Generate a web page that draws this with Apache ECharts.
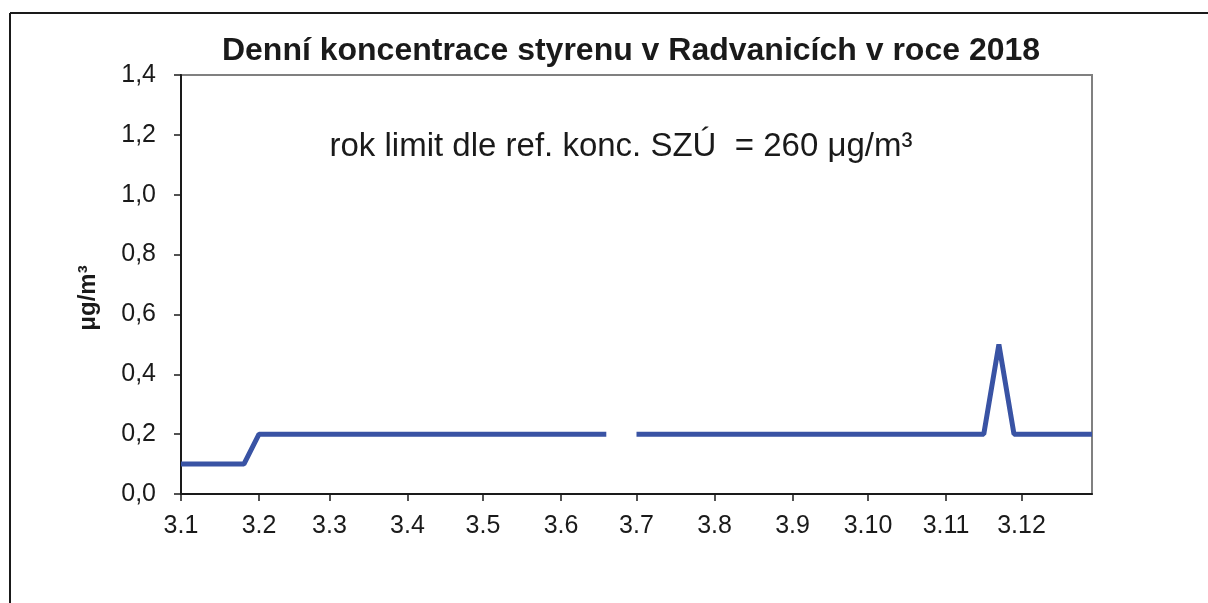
<!DOCTYPE html>
<html>
<head>
<meta charset="utf-8">
<script src="https://cdn.jsdelivr.net/npm/echarts@6/dist/echarts.min.js"></script>
<style>
  html, body { margin: 0; padding: 0; background: #fff; }
  #chart { width: 1208px; height: 603px; }
</style>
</head>
<body>
<div id="chart"></div>
<script>
// sampling dates (d.m, 2018) and measured styrene values in µg/m3
var sampleDates = [
  "3.1", "4.1", "10.1", "16.1", "22.1", "28.1",
  "3.2", "9.2", "15.2", "21.2", "27.2",
  "5.3", "11.3", "17.3", "23.3", "29.3",
  "4.4", "10.4", "16.4", "22.4", "28.4",
  "4.5", "10.5", "16.5", "22.5", "28.5",
  "3.6", "9.6", "15.6", "21.6", "27.6",
  "3.7", "9.7", "15.7", "21.7", "27.7",
  "2.8", "8.8", "14.8", "20.8", "26.8",
  "1.9", "7.9", "13.9", "19.9", "25.9",
  "1.10", "7.10", "13.10", "19.10", "25.10", "31.10",
  "6.11", "12.11", "18.11", "24.11", "30.11",
  "6.12", "12.12", "18.12", "24.12", "30.12", "31.12"
];
var sampleValues = [
  0.1, 0.1, 0.1, 0.1, 0.1, 0.1,
  0.2, 0.2, 0.2, 0.2, 0.2,
  0.2, 0.2, 0.2, 0.2, 0.2,
  0.2, 0.2, 0.2, 0.2, 0.2,
  0.2, 0.2, 0.2, 0.2, 0.2,
  0.2, 0.2, 0.2, 0.2, null,
  0.2, 0.2, 0.2, 0.2, 0.2,
  0.2, 0.2, 0.2, 0.2, 0.2,
  0.2, 0.2, 0.2, 0.2, 0.2,
  0.2, 0.2, 0.2, 0.2, 0.2, 0.2,
  0.2, 0.2, 0.2, 0.5, 0.2,
  0.2, 0.2, 0.2, 0.2, 0.2, 0.2
];
var yTicks = [0, 0.2, 0.4, 0.6, 0.8, 1.0, 1.2, 1.4];

// daily category axis 3.1. - 31.12.2018
var days = [];
var d = new Date(2018, 0, 3);
while (d.getFullYear() === 2018) {
  days.push(d.getDate() + "." + (d.getMonth() + 1));
  d.setDate(d.getDate() + 1);
}

var seriesData = sampleDates.map(function (s, i) {
  return [s, sampleValues[i] === null ? "-" : sampleValues[i]];
});

function isThird(index, value) {
  return value.split(".")[0] === "3";
}

var font = "Liberation Sans, Arial, sans-serif";
var chart = echarts.init(document.getElementById("chart"));
chart.setOption({
  animation: false,
  textStyle: { fontFamily: font },
  title: {
    text: "Denní koncentrace styrenu v Radvanicích v roce 2018",
    left: 626,
    textAlign: "center",
    top: 30,
    textStyle: { fontFamily: font, fontSize: 32, fontWeight: "bold", color: "#1a1a1a" }
  },
  grid: {
    left: 181, right: 116, top: 75, bottom: 109,
    show: true, borderColor: "#808080", borderWidth: 2
  },
  xAxis: {
    type: "category",
    data: days,
    boundaryGap: false,
    axisLine: { lineStyle: { color: "#1a1a1a", width: 2 } },
    axisTick: { interval: isThird, length: 7, lineStyle: { color: "#1a1a1a", width: 1.5 } },
    axisLabel: { interval: isThird, fontSize: 25, color: "#1a1a1a", margin: 20, fontFamily: font }
  },
  yAxis: {
    type: "value",
    min: yTicks[0],
    max: yTicks[yTicks.length - 1],
    interval: 0.2,
    splitLine: { show: false },
    axisLine: { show: true, lineStyle: { color: "#1a1a1a", width: 2 } },
    axisTick: { show: true, length: 7, lineStyle: { color: "#1a1a1a", width: 1.5 } },
    axisLabel: {
      fontSize: 25, color: "#1a1a1a", margin: 25, fontFamily: font,
      formatter: function (v) { return v.toFixed(1).replace(".", ","); }
    }
  },
  graphic: [
    { type: "line", shape: { x1: 10, y1: 13, x2: 1208, y2: 13 }, style: { stroke: "#1a1a1a", lineWidth: 2 } },
    { type: "line", shape: { x1: 10, y1: 13, x2: 10, y2: 603 }, style: { stroke: "#1a1a1a", lineWidth: 2 } },
    {
      type: "text", x: 621, y: 147,
      style: {
        text: "rok limit dle ref. konc. SZÚ  = 260 μg/m³",
        font: "33px " + font, fill: "#1a1a1a",
        textAlign: "center", textVerticalAlign: "middle"
      }
    },
    {
      type: "text", x: 88, y: 298, rotation: Math.PI / 2,
      style: {
        text: "μg/m³",
        font: "bold 24px " + font, fill: "#1a1a1a",
        textAlign: "center", textVerticalAlign: "middle"
      }
    }
  ],
  series: [{
    type: "line",
    data: seriesData,
    showSymbol: false,
    connectNulls: false,
    lineStyle: { color: "#3953a4", width: 5 }
  }]
});
</script>
</body>
</html>
